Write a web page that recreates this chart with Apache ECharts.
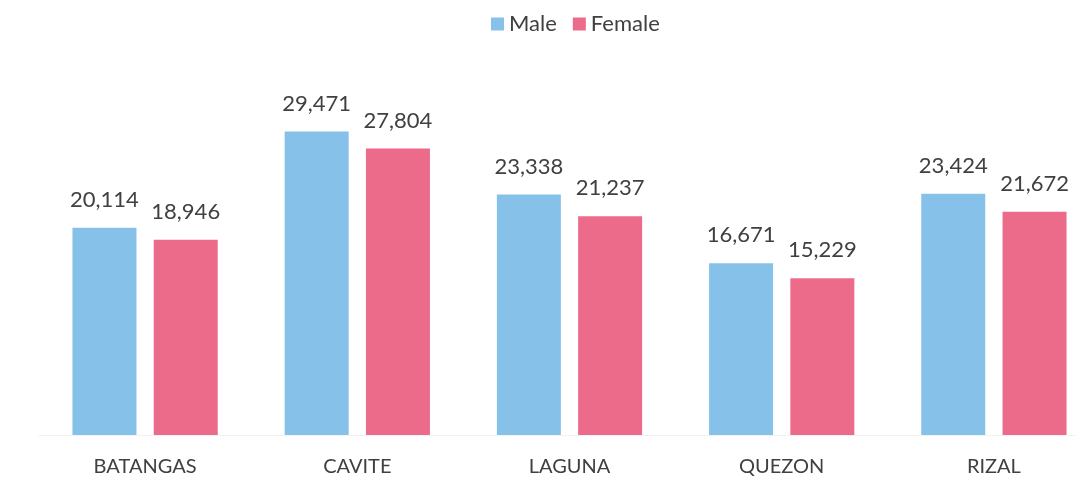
<!DOCTYPE html>
<html>
<head>
<meta charset="utf-8">
<script src="https://cdn.jsdelivr.net/npm/echarts@6/dist/echarts.min.js"></script>
<style>
  html, body { margin: 0; padding: 0; background: #fff; overflow: hidden; width: 1076px; height: 482px; }
  #chart { width: 1100px; height: 482px; }
</style>
</head>
<body>
<div id="chart"></div>
<script>
var provinces = ['BATANGAS', 'CAVITE', 'LAGUNA', 'QUEZON', 'RIZAL'];
var male = [20114, 29471, 23338, 16671, 23424];
var female = [18946, 27804, 21237, 15229, 21672];

var textColor = '#404040';
var font = 'Lato, "Open Sans", sans-serif';

var labelStyle = {
    show: true,
    position: 'top',
    distance: 17,
    color: textColor,
    fontFamily: font,
    fontSize: 22,
    formatter: function (p) { return p.value.toLocaleString('en-US'); }
};

var option = {
    animation: false,
    legend: {
        top: 8,
        left: 486,
        itemWidth: 13,
        itemHeight: 13,
        itemGap: 16,
        icon: 'rect',
        textStyle: { color: textColor, fontFamily: font, fontSize: 22 },
        data: ['Male', 'Female']
    },
    grid: { left: 39, right: 0, top: 23, bottom: 47 },
    xAxis: {
        type: 'category',
        data: provinces,
        axisLine: { lineStyle: { color: '#f2f2f2' } },
        axisTick: { show: false },
        axisLabel: { color: textColor, fontFamily: font, fontSize: 20, margin: 22 }
    },
    yAxis: {
        type: 'value',
        min: 0,
        max: 40000,
        show: false
    },
    series: [
        {
            name: 'Male',
            type: 'bar',
            data: male,
            barWidth: 64,
            barGap: '27%',
            itemStyle: { color: '#86c1ea' },
            label: labelStyle
        },
        {
            name: 'Female',
            type: 'bar',
            data: female,
            barWidth: 64,
            itemStyle: { color: '#ec6b8a' },
            label: labelStyle
        }
    ]
};

var myChart = echarts.init(document.getElementById('chart'));
myChart.setOption(option);
</script>
</body>
</html>
